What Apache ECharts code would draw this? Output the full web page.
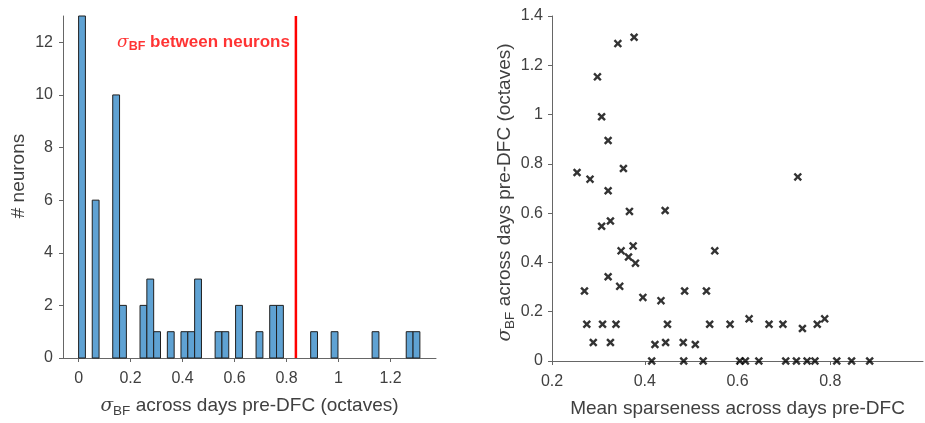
<!DOCTYPE html>
<html>
<head>
<meta charset="utf-8">
<script src="https://cdn.jsdelivr.net/npm/echarts@6/dist/echarts.min.js"></script>
<style>
  html, body { margin: 0; padding: 0; background: #fff; }
  #main { width: 925px; height: 423px; }
</style>
</head>
<body>
<div id="main"></div>
<script>
// histogram of sigma_BF across days (50 bins starting at 0)
const binStart = 0;
const binWidth = 0.02626;
const binCounts = [13, 0, 6, 0, 0, 10, 2, 0, 0, 2,
                   3, 1, 0, 1, 0, 1, 1, 3, 0, 0,
                   1, 1, 0, 2, 0, 0, 1, 0, 2, 2,
                   0, 0, 0, 0, 1, 0, 0, 1, 0, 0,
                   0, 0, 0, 1, 0, 0, 0, 0, 1, 1];
const betweenNeurons = 0.836;

// scatter: mean sparseness vs sigma_BF
const sparseness = [0.342, 0.377, 0.298, 0.307, 0.321, 0.254, 0.282, 0.354, 0.321, 0.367,
                    0.444, 0.307, 0.326, 0.349, 0.375, 0.365, 0.380, 0.551, 0.270, 0.321,
                    0.346, 0.396, 0.435, 0.486, 0.533, 0.275, 0.309, 0.338, 0.449, 0.540,
                    0.584, 0.625, 0.668, 0.698, 0.740, 0.772, 0.788, 0.730, 0.289, 0.326,
                    0.422, 0.445, 0.483, 0.509, 0.415, 0.484, 0.526, 0.605, 0.617, 0.646,
                    0.704, 0.727, 0.750, 0.767, 0.814, 0.846, 0.885];
const sigmaBF = [1.288, 1.314, 1.153, 0.991, 0.895, 0.765, 0.738, 0.781, 0.691, 0.607,
                 0.611, 0.547, 0.568, 0.447, 0.467, 0.422, 0.397, 0.447, 0.284, 0.342,
                 0.303, 0.258, 0.245, 0.284, 0.284, 0.149, 0.149, 0.149, 0.149, 0.149,
                 0.149, 0.171, 0.149, 0.149, 0.132, 0.149, 0.171, 0.747, 0.075, 0.075,
                 0.067, 0.075, 0.075, 0.067, 0, 0, 0, 0, 0, 0,
                 0, 0, 0, 0, 0, 0, 0];

const leftXTicks = [0, 0.2, 0.4, 0.6, 0.8, 1, 1.2];
const leftYTicks = [0, 2, 4, 6, 8, 10, 12];
const rightXTicks = [0.2, 0.4, 0.6, 0.8];

const textColor = '#404040';
const lineColor = '#666';
const red = '#ff0000';
const font = 'Liberation Sans, Arial, sans-serif';

const sigmaRich = {
  s: { fontFamily: 'DejaVu Serif, serif', fontStyle: 'italic', fontSize: 18.5, color: textColor, lineHeight: 24 },
  b: { fontFamily: font, fontSize: 13.5, color: textColor, verticalAlign: 'bottom', lineHeight: 14 },
  t: { fontFamily: font, fontSize: 19, color: textColor, lineHeight: 24 }
};

const chartDom = document.getElementById('main');
const myChart = echarts.init(chartDom, null, { renderer: 'canvas' });

const histData = [];
binCounts.forEach(function (c, i) {
  if (c > 0) histData.push([binStart + i * binWidth, binStart + (i + 1) * binWidth, c]);
});
const scatterData = sparseness.map(function (x, i) { return [x, sigmaBF[i]]; });

const xMarker = 'path://M0,2 L2,0 L5,3 L8,0 L10,2 L7,5 L10,8 L8,10 L5,7 L2,10 L0,8 L3,5 Z';

function axis(extra, ticks, margin) {
  const a = {
    axisLine: { show: true, onZero: false, lineStyle: { color: lineColor, width: 1 } },
    axisTick: { show: true, length: 4, lineStyle: { color: lineColor } },
    axisLabel: { color: textColor, fontSize: 16, fontFamily: font, margin: margin },
    splitLine: { show: false },
    nameTextStyle: { color: textColor, fontSize: 19, fontFamily: font }
  };
  if (ticks) {
    a.axisTick.customValues = ticks;
    a.axisLabel.customValues = ticks;
  }
  return Object.assign(a, extra);
}

const option = {
  animation: false,
  backgroundColor: '#fff',
  grid: [
    { left: 63, right: 489, top: 16, bottom: 61 },
    { left: 552, right: 2, top: 16, bottom: 61 }
  ],
  xAxis: [
    axis({
      gridIndex: 0, type: 'value', min: -0.06, max: 1.375,
      name: '{s|σ}{b|BF}{t| across days pre-DFC (octaves)}',
      nameLocation: 'middle', nameGap: 36,
      nameTextStyle: { rich: sigmaRich }
    }, leftXTicks, 13),
    axis({
      gridIndex: 1, type: 'value', min: 0.2, max: 1.0,
      name: 'Mean sparseness across days pre-DFC',
      nameLocation: 'middle', nameGap: 38
    }, rightXTicks, 13)
  ],
  yAxis: [
    axis({
      gridIndex: 0, type: 'value', min: 0, max: 13,
      name: '# neurons', nameLocation: 'middle', nameGap: 35,
      nameTextStyle: { color: textColor, fontSize: 19, fontFamily: font, padding: [0, 0, 0, 22] }
    }, leftYTicks, 10),
    axis({
      gridIndex: 1, type: 'value', min: 0, max: 1.4, interval: 0.2,
      name: '{s|σ}{b|BF}{t| across days pre-DFC (octaves)}',
      nameLocation: 'middle', nameGap: 31,
      nameTextStyle: { rich: sigmaRich, padding: [0, 8, 0, 0] }
    }, null, 9)
  ],
  series: [
    {
      type: 'custom',
      xAxisIndex: 0, yAxisIndex: 0,
      data: histData,
      encode: { x: [0, 1], y: 2 },
      renderItem: function (params, api) {
        const p0 = api.coord([api.value(0), api.value(2)]);
        const p1 = api.coord([api.value(1), 0]);
        return {
          type: 'rect',
          shape: { x: p0[0], y: p0[1], width: p1[0] - p0[0], height: p1[1] - p0[1] },
          style: { fill: '#5fa2d3', stroke: '#1f1f1f', lineWidth: 1 }
        };
      }
    },
    {
      type: 'line',
      xAxisIndex: 0, yAxisIndex: 0,
      data: [[betweenNeurons, 0], [betweenNeurons, 13]],
      symbol: 'none',
      lineStyle: { color: red, width: 2.5 },
      z: 5
    },
    {
      type: 'scatter',
      xAxisIndex: 0, yAxisIndex: 0,
      data: [[betweenNeurons, 12]],
      symbolSize: 0,
      silent: true,
      label: {
        show: true, position: 'left', distance: 6,
        formatter: '{s|σ}{b|BF}{t| between neurons}',
        rich: {
          s: { fontFamily: 'DejaVu Serif, serif', fontStyle: 'italic', fontSize: 17, color: red, lineHeight: 22 },
          b: { fontFamily: font, fontSize: 12.5, fontWeight: 'bold', color: red, verticalAlign: 'bottom', lineHeight: 13 },
          t: { fontFamily: font, fontSize: 17, fontWeight: 'bold', color: red, lineHeight: 22 }
        }
      }
    },
    {
      type: 'scatter',
      xAxisIndex: 1, yAxisIndex: 1,
      data: scatterData,
      symbol: xMarker,
      symbolSize: 8.5,
      itemStyle: { color: '#000' }
    }
  ]
};

option && myChart.setOption(option);
</script>
</body>
</html>
